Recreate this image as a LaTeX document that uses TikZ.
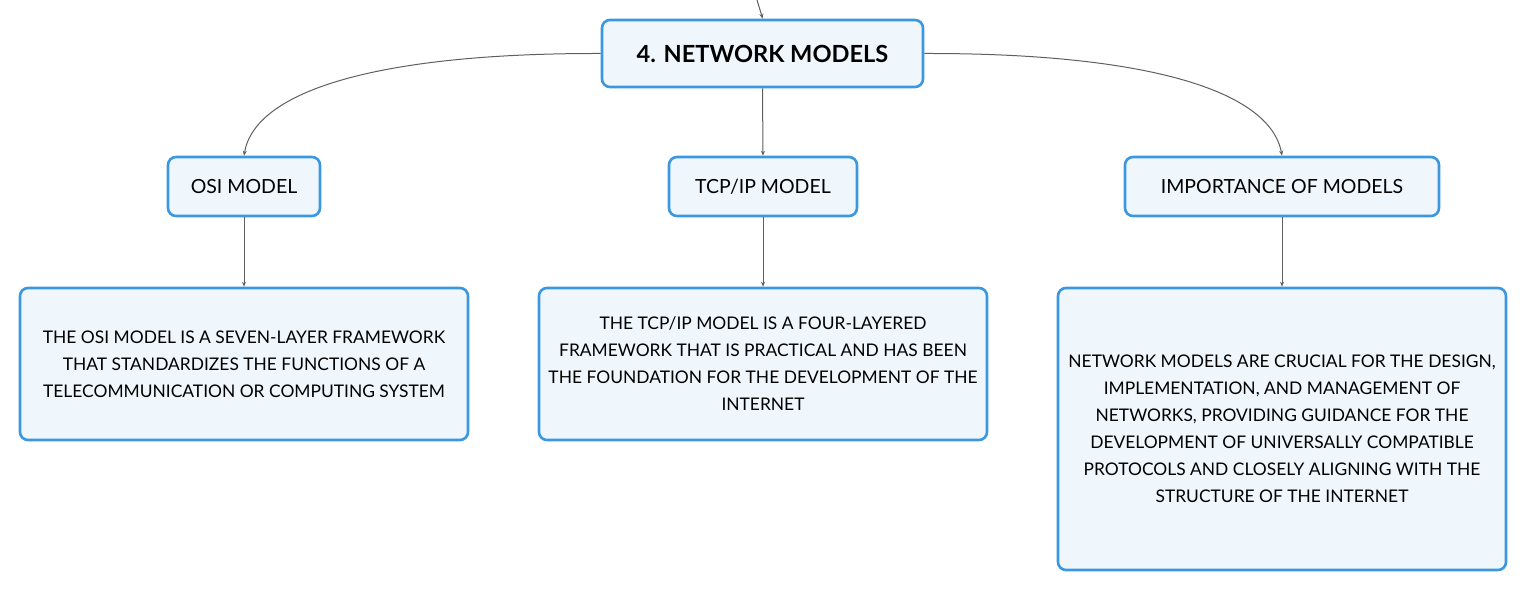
\documentclass[tikz,border=0pt]{standalone}
\usepackage{fontspec}
\setmainfont{Lato}
\usetikzlibrary{arrows.meta}
\definecolor{boxfill}{HTML}{EFF7FD}
\definecolor{boxline}{HTML}{3B98E0}
\definecolor{conn}{HTML}{5F5F5F}
\begin{document}
\begin{tikzpicture}[x=1pt,y=-1pt,
  box/.style={draw=boxline, fill=boxfill, line width=2.6pt, rounded corners=8pt, align=center, inner sep=0pt, text=black},
  conn/.style={draw=conn, line width=1pt, -{Stealth[length=5pt,width=4pt]}}]
\useasboundingbox (0,0) rectangle (1527,591);
\node[box, minimum width=321, minimum height=67, font=\fontsize{23.6}{28}\selectfont\bfseries] (title) at (762.5,53.5) {4. NETWORK MODELS};
\node[box, minimum width=152, minimum height=59, font=\fontsize{19.5}{23}\selectfont] (osi) at (244,186.5) {OSI MODEL};
\node[box, minimum width=188, minimum height=59, font=\fontsize{19.5}{23}\selectfont] (tcp) at (763,186.5) {TCP/IP MODEL};
\node[box, minimum width=314, minimum height=59, font=\fontsize{19.5}{23}\selectfont] (imp) at (1282,186.5) {IMPORTANCE OF MODELS};
\node[box, minimum width=448, minimum height=152, font=\fontsize{17.4}{27}\selectfont] (osid) at (244,364) {THE OSI MODEL IS A SEVEN-LAYER FRAMEWORK\\THAT STANDARDIZES THE FUNCTIONS OF A\\TELECOMMUNICATION OR COMPUTING SYSTEM};
\node[box, minimum width=448, minimum height=152, font=\fontsize{17.4}{27}\selectfont] (tcpd) at (763,364) {THE TCP/IP MODEL IS A FOUR-LAYERED\\FRAMEWORK THAT IS PRACTICAL AND HAS BEEN\\THE FOUNDATION FOR THE DEVELOPMENT OF THE\\INTERNET};
\node[box, minimum width=448, minimum height=282, font=\fontsize{17.4}{27}\selectfont] (impd) at (1282,429) {NETWORK MODELS ARE CRUCIAL FOR THE DESIGN,\\IMPLEMENTATION, AND MANAGEMENT OF\\NETWORKS, PROVIDING GUIDANCE FOR THE\\DEVELOPMENT OF UNIVERSALLY COMPATIBLE\\PROTOCOLS AND CLOSELY ALIGNING WITH THE\\STRUCTURE OF THE INTERNET};
\coordinate (top) at (757,0);
\draw[conn] (top) .. controls (760,8) .. (title.north);
\draw[conn] (title.west) .. controls (380,53) and (255,90) .. (osi.north);
\draw[conn] (title.east) .. controls (1145,53) and (1270,90) .. (imp.north);
\draw[conn] (title.south) -- (tcp.north);
\draw[conn] (osi.south) -- (osid.north);
\draw[conn] (tcp.south) -- (tcpd.north);
\draw[conn] (imp.south) -- (impd.north);
\end{tikzpicture}
\end{document}
